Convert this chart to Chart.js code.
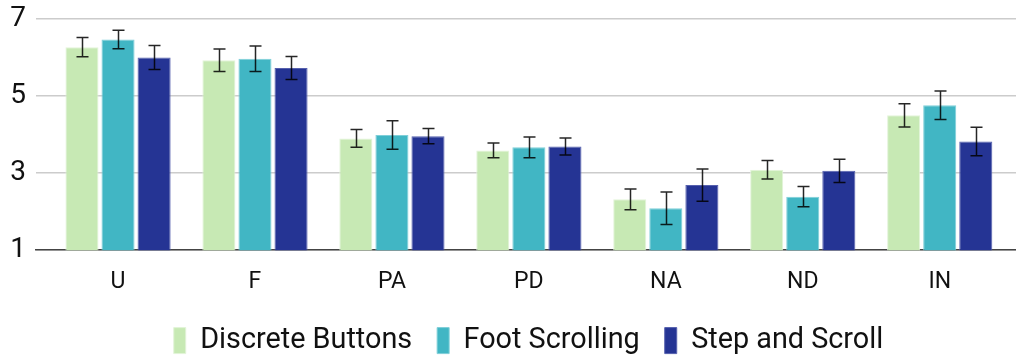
<!DOCTYPE html>
<html>
<head>
<meta charset="utf-8">
<script src="https://cdn.jsdelivr.net/npm/chart.js@4/dist/chart.umd.min.js"></script>
<style>
  html, body { margin: 0; padding: 0; background: #ffffff; }
  #wrap { width: 1016px; height: 362px; position: relative; }
</style>
</head>
<body>
<div id="wrap"><canvas id="c" width="1016" height="362"></canvas></div>
<script>
const categories = ['U', 'F', 'PA', 'PD', 'NA', 'ND', 'IN'];
const seriesNames = ['Discrete Buttons', 'Foot Scrolling', 'Step and Scroll'];
const discreteButtons = [6.27, 5.93, 3.90, 3.59, 2.32, 3.09, 4.50];
const footScrolling   = [6.47, 5.97, 3.99, 3.67, 2.09, 2.39, 4.76];
const stepAndScroll   = [6.00, 5.73, 3.96, 3.69, 2.69, 3.06, 3.82];
const discreteButtonsErr = [0.25, 0.29, 0.23, 0.19, 0.27, 0.24, 0.30];
const footScrollingErr   = [0.24, 0.33, 0.37, 0.27, 0.42, 0.26, 0.37];
const stepAndScrollErr   = [0.31, 0.30, 0.20, 0.22, 0.42, 0.30, 0.37];
const yTicks = [1, 3, 5, 7];

const FONT = 'Roboto, "Noto Sans", "DejaVu Sans", sans-serif';

const errorBars = {
  id: 'errorBars',
  afterDatasetsDraw(chart) {
    const ctx = chart.ctx;
    const yScale = chart.scales.y;
    ctx.save();
    ctx.strokeStyle = 'rgba(0,0,0,0.85)';
    ctx.lineWidth = 1.5;
    chart.data.datasets.forEach((ds, i) => {
      const meta = chart.getDatasetMeta(i);
      meta.data.forEach((el, j) => {
        const v = ds.data[j], e = ds.errors[j];
        const x = Math.round(el.x) + 0.5;
        const yHi = yScale.getPixelForValue(v + e);
        const yLo = yScale.getPixelForValue(v - e);
        const cap = 6;
        ctx.beginPath();
        ctx.moveTo(x, yHi); ctx.lineTo(x, yLo);
        ctx.moveTo(x - cap, yHi); ctx.lineTo(x + cap, yHi);
        ctx.moveTo(x - cap, yLo); ctx.lineTo(x + cap, yLo);
        ctx.stroke();
      });
    });
    ctx.restore();
  }
};

// Centre the legend over the plot area (as in the reference) rather than the whole canvas.
const legendOverPlot = {
  id: 'legendOverPlot',
  afterLayout(chart) {
    if (chart.legend) { chart.legend.left = chart.chartArea.left + 5; }
  }
};

new Chart(document.getElementById('c'), {
  type: 'bar',
  data: {
    labels: categories.map((c, i) => i),
    datasets: [
      { label: seriesNames[0], data: discreteButtons, errors: discreteButtonsErr,
        backgroundColor: '#c7e9b4', borderColor: '#e3f4d9', borderWidth: 1 },
      { label: seriesNames[1], data: footScrolling, errors: footScrollingErr,
        backgroundColor: '#41b6c4', borderColor: '#7fcfd9', borderWidth: 1 },
      { label: seriesNames[2], data: stepAndScroll, errors: stepAndScrollErr,
        backgroundColor: '#253494', borderColor: '#5660ae', borderWidth: 1 }
    ]
  },
  options: {
    responsive: false,
    animation: false,
    categoryPercentage: 0.79,
    barPercentage: 0.917,
    layout: { padding: { top: 19, right: 0, bottom: -3, left: 0 } },
    scales: {
      x: {
        type: 'linear',
        offset: false,
        min: -0.599,
        max: 6.557,
        afterBuildTicks: s => { s.ticks = categories.map((c, i) => ({ value: i })); },
        afterFit: s => { s.height = 51; },
        grid: { display: false, drawTicks: false, offset: false },
        border: { display: true, color: '#444444', width: 1.5 },
        ticks: {
          autoSkip: false,
          maxRotation: 0,
          padding: 18,
          color: '#111111',
          font: { family: FONT, size: 23 },
          callback: v => categories[v] !== undefined ? categories[v] : ''
        }
      },
      y: {
        min: 1,
        max: 7,
        afterBuildTicks: s => { s.ticks = yTicks.map(v => ({ value: v })); },
        afterFit: s => { s.width = 36; },
        grid: { color: '#cccccc', lineWidth: 1.5, drawTicks: false },
        border: { display: false },
        ticks: {
          padding: 10,
          color: '#111111',
          font: { family: FONT, size: 28, lineHeight: 0.6 }
        }
      }
    },
    plugins: {
      legend: {
        position: 'bottom',
        labels: {
          boxWidth: 12,
          boxHeight: 26,
          padding: 25,
          color: '#111111',
          font: { family: FONT, size: 28.8 }
        }
      },
      tooltip: { enabled: false }
    }
  },
  plugins: [errorBars, legendOverPlot]
});
</script>
</body>
</html>
